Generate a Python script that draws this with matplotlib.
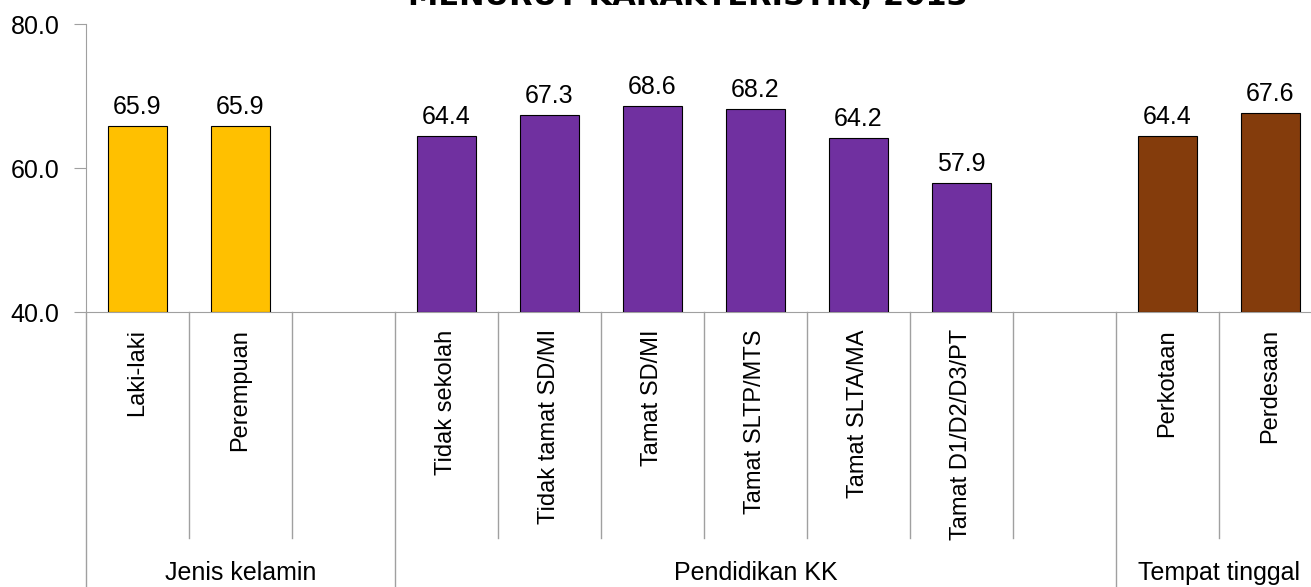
import matplotlib.pyplot as plt
from matplotlib import transforms

plt.rcParams['font.family'] = ['Liberation Sans Narrow', 'Liberation Sans', 'DejaVu Sans']

# data
groups = ['Jenis kelamin', 'Pendidikan KK', 'Tempat tinggal']
group_slots = [3, 7, 2]  # includes one empty slot after first two groups
categories = [
    ['Laki-laki', 'Perempuan'],
    ['Tidak sekolah', 'Tidak tamat SD/MI', 'Tamat SD/MI', 'Tamat SLTP/MTS',
     'Tamat SLTA/MA', 'Tamat D1/D2/D3/PT'],
    ['Perkotaan', 'Perdesaan'],
]
values = [
    [65.9, 65.9],
    [64.4, 67.3, 68.6, 68.2, 64.2, 57.9],
    [64.4, 67.6],
]
colors = ['#FFC000', '#7030A0', '#843C0C']
title = 'MENURUT KARAKTERISTIK, 2013'

W, H = 1311, 587
fig = plt.figure(figsize=(W / 100, H / 100), dpi=100)
ax = fig.add_axes([86 / W, (H - 312) / H, (1322 - 86) / W, (312 - 24) / H])

n_slots = sum(group_slots)
ax.set_xlim(-0.5, n_slots - 0.5)
ax.set_ylim(40, 80)

trans = transforms.blended_transform_factory(ax.transData, ax.transAxes)
start = 0
for g, cats, vals, col, nslot in zip(groups, categories, values, colors, group_slots):
    xs = list(range(start, start + len(cats)))
    ax.bar(xs, [v - 40 for v in vals], bottom=40, width=0.58, color=col,
           edgecolor='black', linewidth=0.8, zorder=3)
    for x, v, c in zip(xs, vals, cats):
        ax.annotate(f'{v:.1f}', (x, v), xytext=(0, 5), textcoords='offset points',
                    ha='center', va='bottom', fontsize=18)
        ax.text(x, -0.06, c, transform=trans, rotation=90, ha='center', va='top',
                fontsize=17)
    # separators between slots
    for k in range(1, nslot):
        xb = start + k - 0.5
        ax.plot([xb, xb], [0, -0.785], transform=trans, color='#A0A0A0',
                lw=1, clip_on=False)
    # group boundary
    xg = start - 0.5
    ax.plot([xg, xg], [0, -1.1], transform=trans, color='#A0A0A0',
            lw=1, clip_on=False)
    ax.text(start + nslot / 2 - 0.5, -0.905, g, transform=trans, ha='center',
            va='center', fontsize=18)
    start += nslot

ax.set_xticks([])
ax.set_yticks([40, 60, 80])
ax.set_yticklabels(['40.0', '60.0', '80.0'], fontsize=18)
ax.tick_params(axis='y', length=9, color='#A0A0A0', pad=10)
for s in ['top', 'right']:
    ax.spines[s].set_visible(False)
ax.spines['left'].set_color('#A0A0A0')
ax.spines['bottom'].set_color('#A0A0A0')

fig.text(688 / W, 1 - 5 / H, title, ha='center', va='baseline', fontsize=22,
         fontweight='heavy', family=['DejaVu Sans'])

fig.savefig('out.png', dpi=100)
